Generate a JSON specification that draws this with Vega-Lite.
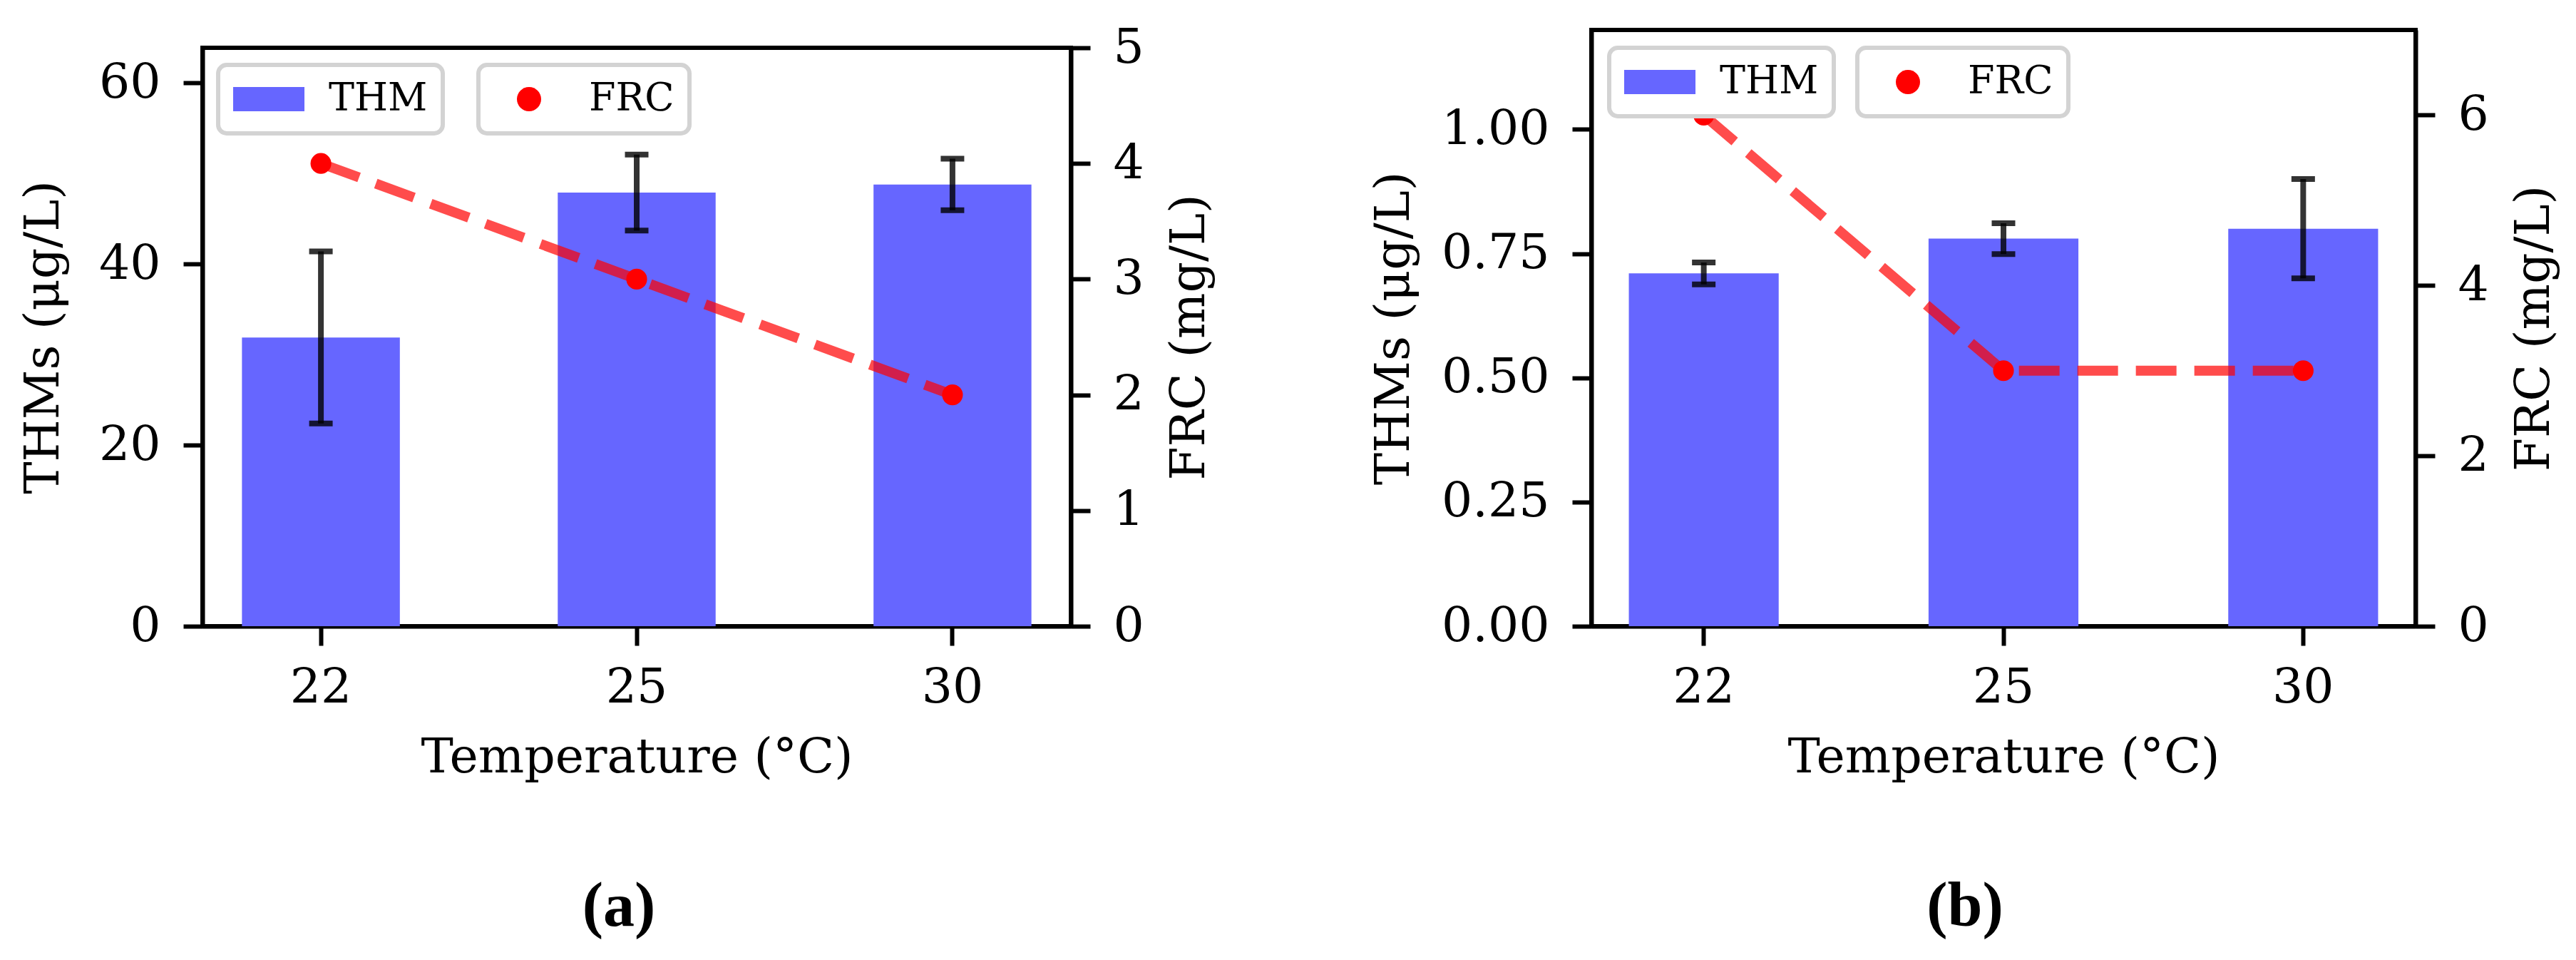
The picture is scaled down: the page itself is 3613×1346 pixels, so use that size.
{
  "$schema": "https://vega.github.io/schema/vega-lite/v6.json",
  "background": "white",
  "padding": {"left": 24, "top": 30, "right": 0, "bottom": 0},
  "spacing": 212,
  "config": {
    "font": "DejaVu Serif",
    "view": {"stroke": "black", "strokeWidth": 6},
    "axis": {
      "grid": false,
      "labelFont": "DejaVu Serif",
      "titleFont": "DejaVu Serif",
      "labelFontSize": 68,
      "titleFontSize": 68,
      "titleFontWeight": "normal",
      "labelColor": "black",
      "titleColor": "black",
      "tickColor": "black",
      "domainColor": "black",
      "tickSize": 27,
      "tickWidth": 6,
      "domainWidth": 6
    },
    "axisX": {"labelPadding": 25, "titlePadding": 30},
    "axisY": {"labelPadding": 32, "titlePadding": 43},
    "legend": {
      "labelFont": "DejaVu Serif",
      "labelFontSize": 54,
      "labelColor": "black",
      "padding": 21,
      "strokeColor": "#d3d3d3",
      "strokeWidth": 6,
      "cornerRadius": 12,
      "fillColor": "white",
      "symbolStrokeWidth": 0,
      "symbolOpacity": 1,
      "symbolSize": 1600,
      "symbolOffset": 23,
      "labelOffset": 57
    },
    "title": {
      "font": "Liberation Serif",
      "fontSize": 88,
      "fontWeight": "bold",
      "color": "black"
    }
  },
  "datasets": {
    "a": [
      {"temp": "22", "thm": 31.9, "sd": 9.5, "frc": 4},
      {"temp": "25", "thm": 47.9, "sd": 4.2, "frc": 3},
      {"temp": "30", "thm": 48.8, "sd": 2.85, "frc": 2}
    ],
    "b": [
      {"temp": "22", "thm": 0.71, "sd": 0.022, "frc": 6},
      {"temp": "25", "thm": 0.78, "sd": 0.031, "frc": 3},
      {"temp": "30", "thm": 0.80, "sd": 0.10, "frc": 3}
    ]
  },
  "hconcat": [
    {
      "bounds": "flush",
      "spacing": 24,
      "vconcat": [
        {
          "width": 1218,
          "height": 1,
          "view": {"stroke": null},
          "data": {"values": []},
          "mark": {"type": "point"},
          "encoding": {}
        },
        {
          "width": 1218,
          "height": 811,
          "data": {"name": "a"},
          "title": {"text": "(a)", "orient": "bottom", "offset": 132, "dx": -25},
          "encoding": {
            "x": {
              "field": "temp",
              "type": "ordinal",
              "scale": {"paddingInner": 0.5, "paddingOuter": 0.125},
              "axis": {"title": "Temperature (°C)", "labelAngle": 0}
            }
          },
          "layer": [
            {
              "layer": [
                {
                  "mark": {"type": "bar"},
                  "encoding": {
                    "y": {
                      "field": "thm",
                      "type": "quantitative",
                      "title": "THMs (μg/L)",
                      "scale": {"domain": [0, 63.9], "nice": false},
                      "axis": {"values": [0, 20, 40, 60]}
                    },
                    "color": {
                      "datum": "THM",
                      "type": "nominal",
                      "scale": {"range": ["#6666ff"]},
                      "legend": {
                        "orient": "none",
                        "legendX": 22,
                        "legendY": 24,
                        "title": null,
                        "symbolType": "M-2.5,-0.85H2.5V0.85H-2.5Z"
                      }
                    }
                  }
                },
                {
                  "mark": {
                    "type": "errorbar",
                    "color": "black",
                    "opacity": 0.8,
                    "thickness": 8,
                    "ticks": {"size": 33, "thickness": 8, "color": "black", "opacity": 0.8}
                  },
                  "encoding": {
                    "y": {
                      "field": "thm",
                      "type": "quantitative",
                      "title": "THMs (μg/L)",
                      "scale": {"domain": [0, 63.9], "nice": false}
                    },
                    "yError": {"field": "sd"}
                  }
                }
              ]
            },
            {
              "layer": [
                {
                  "mark": {
                    "type": "line",
                    "color": "red",
                    "opacity": 0.7,
                    "strokeWidth": 14,
                    "strokeDash": [57, 25]
                  },
                  "encoding": {
                    "y": {
                      "field": "frc",
                      "type": "quantitative",
                      "title": "FRC (mg/L)",
                      "scale": {"domain": [0, 5], "nice": false},
                      "axis": {
                        "values": [0, 1, 2, 3, 4, 5],
                        "format": "d",
                        "titleAngle": 270,
                        "titleBaseline": "top",
                        "titlePadding": 30
                      }
                    }
                  }
                },
                {
                  "mark": {"type": "point", "filled": true, "size": 850, "opacity": 1},
                  "encoding": {
                    "y": {
                      "field": "frc",
                      "type": "quantitative",
                      "title": "FRC (mg/L)",
                      "scale": {"domain": [0, 5], "nice": false}
                    },
                    "color": {
                      "datum": "FRC",
                      "type": "nominal",
                      "scale": {"range": ["#ff0000"]},
                      "legend": {
                        "orient": "none",
                        "legendX": 387,
                        "legendY": 24,
                        "title": null,
                        "symbolType": "M-0.85,0A0.85,0.85,0,1,0,0.85,0A0.85,0.85,0,1,0,-0.85,0Z"
                      }
                    }
                  }
                }
              ]
            }
          ],
          "resolve": {"scale": {"y": "independent", "color": "independent"}}
        }
      ]
    },
    {
      "width": 1156,
      "height": 836,
      "data": {"name": "b"},
      "title": {"text": "(b)", "orient": "bottom", "offset": 132, "dx": -54},
      "encoding": {
        "x": {
          "field": "temp",
          "type": "ordinal",
          "scale": {"paddingInner": 0.5, "paddingOuter": 0.125},
          "axis": {"title": "Temperature (°C)", "labelAngle": 0}
        }
      },
      "layer": [
        {
          "layer": [
            {
              "mark": {"type": "bar"},
              "encoding": {
                "y": {
                  "field": "thm",
                  "type": "quantitative",
                  "title": "THMs (μg/L)",
                  "scale": {"domain": [0, 1.2], "nice": false},
                  "axis": {"values": [0, 0.25, 0.5, 0.75, 1.0], "format": ".2f"}
                },
                "color": {
                  "datum": "THM",
                  "type": "nominal",
                  "scale": {"range": ["#6666ff"]},
                  "legend": {
                    "orient": "none",
                    "legendX": 25,
                    "legendY": 25,
                    "title": null,
                    "symbolType": "M-2.5,-0.85H2.5V0.85H-2.5Z"
                  }
                }
              }
            },
            {
              "mark": {
                "type": "errorbar",
                "color": "black",
                "opacity": 0.8,
                "thickness": 8,
                "ticks": {"size": 33, "thickness": 8, "color": "black", "opacity": 0.8}
              },
              "encoding": {
                "y": {
                  "field": "thm",
                  "type": "quantitative",
                  "title": "THMs (μg/L)",
                  "scale": {"domain": [0, 1.2], "nice": false}
                },
                "yError": {"field": "sd"}
              }
            }
          ]
        },
        {
          "layer": [
            {
              "mark": {
                "type": "line",
                "color": "red",
                "opacity": 0.7,
                "strokeWidth": 14,
                "strokeDash": [57, 25]
              },
              "encoding": {
                "y": {
                  "field": "frc",
                  "type": "quantitative",
                  "title": "FRC (mg/L)",
                  "scale": {"domain": [0, 7], "nice": false},
                  "axis": {
                    "values": [0, 2, 4, 6],
                    "format": "d",
                    "titleAngle": 270,
                    "titleBaseline": "top",
                    "titlePadding": 30
                  }
                }
              }
            },
            {
              "mark": {"type": "point", "filled": true, "size": 850, "opacity": 1},
              "encoding": {
                "y": {
                  "field": "frc",
                  "type": "quantitative",
                  "title": "FRC (mg/L)",
                  "scale": {"domain": [0, 7], "nice": false}
                },
                "color": {
                  "datum": "FRC",
                  "type": "nominal",
                  "scale": {"range": ["#ff0000"]},
                  "legend": {
                    "orient": "none",
                    "legendX": 373,
                    "legendY": 25,
                    "title": null,
                    "symbolType": "M-0.85,0A0.85,0.85,0,1,0,0.85,0A0.85,0.85,0,1,0,-0.85,0Z"
                  }
                }
              }
            }
          ]
        }
      ],
      "resolve": {"scale": {"y": "independent", "color": "independent"}}
    }
  ]
}
